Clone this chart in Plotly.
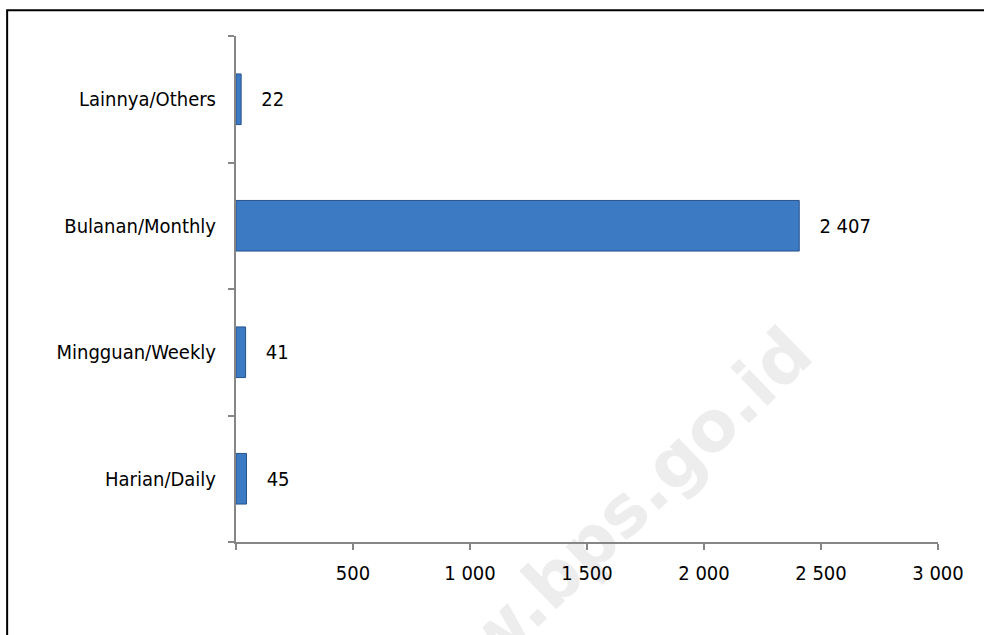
import plotly.graph_objects as go

categories = ["Harian/Daily", "Mingguan/Weekly", "Bulanan/Monthly", "Lainnya/Others"]
values = [45, 41, 2407, 22]
tick_vals = [0, 500, 1000, 1500, 2000, 2500, 3000]
tick_text = ["", "500", "1 000", "1 500", "2 000", "2 500", "3 000"]

FONT = "DejaVu Sans Condensed, DejaVu Sans, sans-serif"

fig = go.Figure()
fig.add_trace(go.Bar(
    y=categories, x=values, orientation="h",
    width=0.4,
    marker=dict(color="#3D7AC4", line=dict(color="#27528C", width=1)),
    text=values,
    texttemplate="   %{x:,d}",
    textposition="outside",
    textfont=dict(family=FONT, size=20, color="#000000"),
    cliponaxis=False,
))

fig.update_layout(
    width=984, height=635,
    margin=dict(l=236, r=46, t=36, b=93),
    paper_bgcolor="white", plot_bgcolor="white",
    separators=". ",
    showlegend=False,
    font=dict(family=FONT, size=20, color="#000000"),
    xaxis=dict(
        range=[0, 3000], tickvals=tick_vals, ticktext=tick_text,
        showgrid=False, zeroline=False,
        showline=True, linecolor="#868686", linewidth=2,
        ticks="outside", ticklen=6, tickcolor="#868686", tickwidth=2,
        ticklabelstandoff=6,
        tickfont=dict(family=FONT, size=20, color="#000000"),
    ),
    yaxis=dict(
        categoryorder="array", categoryarray=categories,
        showgrid=False, zeroline=False,
        showline=True, linecolor="#868686", linewidth=2,
        ticks="outside", ticklen=6, tickcolor="#868686", tickwidth=2,
        tickson="boundaries", ticklabelstandoff=14,
        tickfont=dict(family=FONT, size=20, color="#000000"),
    ),
)

# watermark (drawn below the axes and labels, as in the reference)
fig.add_shape(
    type="rect", xref="paper", yref="paper",
    x0=0.449, x1=0.549, y0=-0.046, y1=0.054,
    line=dict(width=0), fillcolor="rgba(0,0,0,0)", layer="below",
    label=dict(text="<b>www.bps.go.id</b>", textangle=-44,
               textposition="middle center",
               font=dict(family="DejaVu Sans", size=70, color="#EDEDED")),
)

# outer frame
fig.add_shape(type="rect", xref="paper", yref="paper",
              x0=-0.326, x1=1.12, y0=-0.2, y1=1.051,
              line=dict(color="#000000", width=2), layer="below")

fig.write_html("out.html")
